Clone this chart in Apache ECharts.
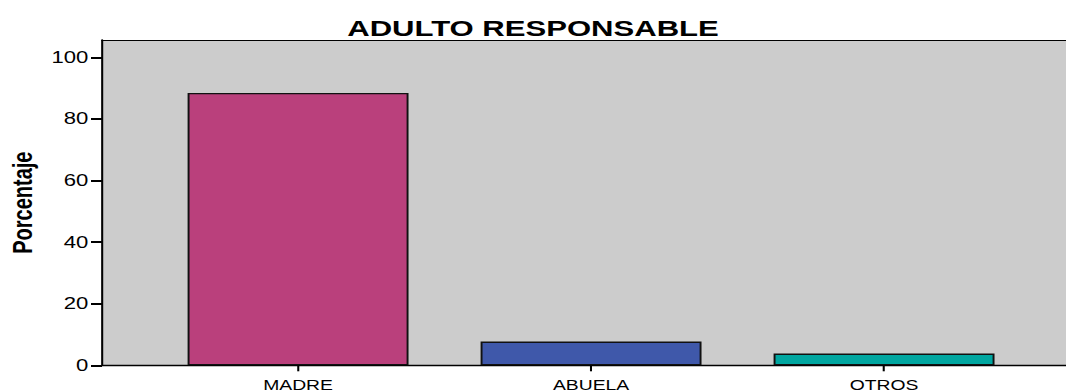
<!DOCTYPE html>
<html>
<head>
<meta charset="utf-8">
<title>ADULTO RESPONSABLE</title>
<script src="https://cdn.jsdelivr.net/npm/echarts@6/dist/echarts.min.js"></script>
<style>
  html, body { margin: 0; padding: 0; background: #ffffff; overflow: hidden; }
  /* The chart is laid out narrower and widened horizontally, giving the wide lettering of the figure */
  #chart {
    width: 772px;
    height: 392px;
    transform: scaleX(1.38083);
    transform-origin: 0 0;
  }
</style>
</head>
<body>
<div id="chart"></div>
<script>
// Responsible adult: percentage of cases per category
const categories = ['MADRE', 'ABUELA', 'OTROS'];
const percentages = [88.5, 7.7, 3.8];
const yTickValues = [0, 20, 40, 60, 80, 100];
const categoryPositions = [0, 1, 2];

const barColors = ['#ba407c', '#3f58aa', '#00a6a0'];
const font = 'Liberation Sans, Arial, sans-serif';

// Horizontal extent of the plot, in category units (the plot runs on past the right edge)
const xMin = -0.669;
const xMax = 2.621;

const chart = echarts.init(document.getElementById('chart'), null, { renderer: 'svg' });

chart.setOption({
  animation: false,
  title: {
    text: 'ADULTO RESPONSABLE',
    left: 'center',
    top: 12,
    textStyle: { fontFamily: font, fontWeight: 'bold', fontSize: 22.5, color: '#000' }
  },
  grid: {
    left: 73.9,
    right: 0,
    top: 40,
    bottom: 26.7,
    containLabel: false,
    outerBoundsMode: 'none',
    show: true,
    backgroundColor: '#cccccc',
    borderWidth: 0
  },
  xAxis: [{
    type: 'value',
    min: xMin,
    max: xMax,
    splitLine: { show: false },
    axisLine: { show: true, onZero: false, lineStyle: { color: '#000', width: 1.3 } },
    axisTick: {
      show: true,
      customValues: categoryPositions,
      length: 6,
      lineStyle: { color: '#000', width: 1.5 }
    },
    axisLabel: {
      customValues: categoryPositions,
      formatter: (v) => categories[Math.round(v)],
      margin: 13,
      fontFamily: font,
      fontSize: 14,
      color: '#000'
    }
  }, {
    // top frame line of the plot
    type: 'value',
    position: 'top',
    min: xMin,
    max: xMax,
    splitLine: { show: false },
    axisLine: { show: true, onZero: false, lineStyle: { color: '#000', width: 1.2 } },
    axisTick: { show: false },
    axisLabel: { show: false }
  }],
  yAxis: {
    type: 'value',
    min: 0,
    max: 105.7,
    name: 'Porcentaje',
    nameLocation: 'middle',
    nameRotate: 90,
    nameGap: 47,
    nameTextStyle: { fontFamily: font, fontWeight: 'bold', fontSize: 20, color: '#000' },
    splitLine: { show: false },
    axisLine: { show: true, onZero: false, lineStyle: { color: '#000', width: 1.5 } },
    axisTick: {
      show: true,
      customValues: yTickValues,
      length: 8,
      lineStyle: { color: '#000', width: 2 }
    },
    axisLabel: {
      customValues: yTickValues,
      margin: 10,
      fontFamily: font,
      fontSize: 16,
      color: '#000'
    }
  },
  series: [{
    type: 'bar',
    xAxisIndex: 0,
    barWidth: 160,
    data: percentages.map((v, i) => ({
      value: [categoryPositions[i], v],
      itemStyle: { color: barColors[i], borderColor: '#111', borderWidth: 1.4 }
    }))
  }]
});
</script>
</body>
</html>
